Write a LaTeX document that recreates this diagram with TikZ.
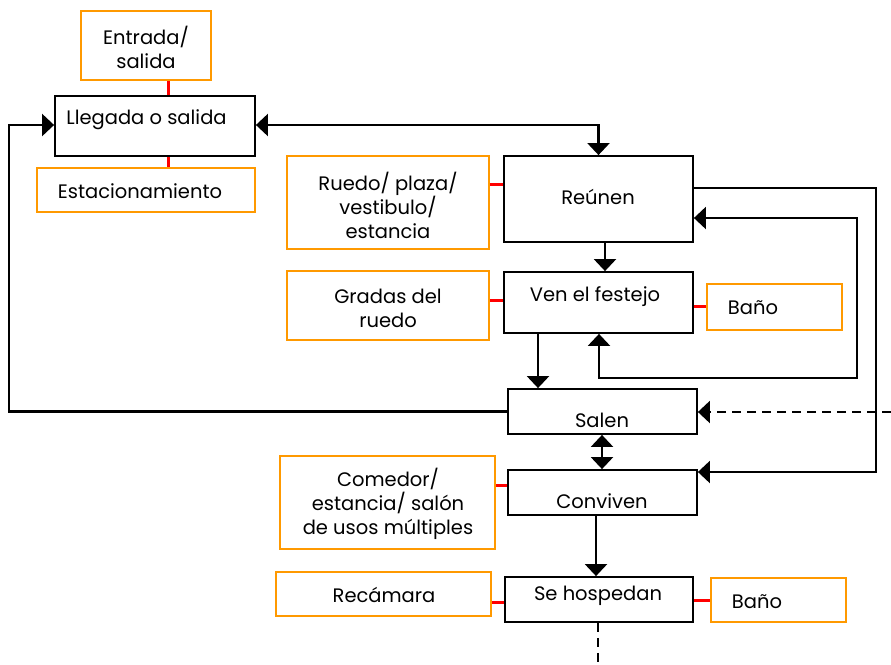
\documentclass[tikz,border=0pt]{standalone}
\usepackage{fontspec}
\setmainfont{Poppins}
\usetikzlibrary{arrows.meta}
\definecolor{orng}{HTML}{FF9900}
\definecolor{redl}{HTML}{FF0000}
\begin{document}
\begin{tikzpicture}[x=1pt,y=-1pt,
  bbox/.style={draw=black, line width=1.8pt, inner sep=0pt},
  obox/.style={draw=orng, line width=1.8pt, inner sep=0pt},
  txt/.style={font=\fontsize{19.5}{24}\selectfont, align=center, inner sep=0pt},
  redlink/.style={draw=redl, line width=3pt},
  conn/.style={line width=2.2pt, -{Triangle[length=12pt,width=22pt]}},
  conn2/.style={line width=2.2pt, {Triangle[length=12pt,width=22pt]}-{Triangle[length=12pt,width=22pt]}},
  dconn/.style={line width=2.2pt, dash pattern=on 9pt off 6pt}
]
\useasboundingbox (0,0) rectangle (891,664);
% boxes
\node[obox, minimum width=130pt, minimum height=69pt] (entrada) at (146,45.5) {};
\node[bbox, minimum width=200pt, minimum height=60pt] (llegada) at (155,126) {};
\node[obox, minimum width=218pt, minimum height=44pt] (estac) at (146,190) {};
\node[obox, minimum width=202pt, minimum height=93pt] (ruedo) at (388,202.5) {};
\node[bbox, minimum width=189pt, minimum height=86pt] (reunen) at (598.5,199) {};
\node[obox, minimum width=202pt, minimum height=69pt] (gradas) at (388,305.5) {};
\node[bbox, minimum width=189pt, minimum height=61pt] (ven) at (598.5,302.5) {};
\node[obox, minimum width=135pt, minimum height=46pt] (bano1) at (774.5,307) {};
\node[bbox, minimum width=189pt, minimum height=45pt] (salen) at (602.5,411.5) {};
\node[obox, minimum width=215pt, minimum height=93pt] (comedor) at (387.5,502.5) {};
\node[bbox, minimum width=189pt, minimum height=45pt] (conviven) at (602.5,492.5) {};
\node[obox, minimum width=215pt, minimum height=44pt] (recamara) at (383.5,594) {};
\node[bbox, minimum width=188pt, minimum height=45pt] (hosped) at (599,599.5) {};
\node[obox, minimum width=135pt, minimum height=44pt] (bano2) at (778.5,600) {};
% texts
\node[txt] (tentrada) at (146,47) {Entrada/\\salida};
\node[txt] (tllegada) at (146.5,120) {Llegada o salida};
\node[txt] (testac) at (140,191) {Estacionamiento};
\node[txt] (truedo) at (388,205) {Ruedo/ plaza/\\vestibulo/\\estancia};
\node[txt] (treunen) at (598,197) {Reúnen};
\node[txt] (tgradas) at (388,308) {Gradas del\\ruedo};
\node[txt] (tven) at (595,297) {Ven el festejo};
\node[txt] (tbano1) at (753,308) {Baño};
\node[txt] (tsalen) at (602,420) {Salen};
\node[txt] (tcomedor) at (388,504) {Comedor/\\estancia/ salón\\de usos múltiples};
\node[txt] (tconviven) at (602,501) {Conviven};
\node[txt] (trecamara) at (384,595) {Recámara};
\node[txt] (thosped) at (598,596) {Se hospedan};
\node[txt] (tbano2) at (757,602) {Baño};
% red links
\draw[redlink] (entrada.south -| 168,0) -- (llegada.north -| 168,0);
\draw[redlink] (llegada.south -| 168,0) -- (estac.north -| 168,0);
\draw[redlink] (ruedo.east |- 0,184) -- (reunen.west |- 0,184);
\draw[redlink] (gradas.east |- 0,300) -- (ven.west |- 0,300);
\draw[redlink] (ven.east |- 0,306) -- (bano1.west |- 0,306);
\draw[redlink] (comedor.east |- 0,485) -- (conviven.west |- 0,485);
\draw[redlink] (recamara.east |- 0,602) -- (hosped.west |- 0,602);
\draw[redlink] (hosped.east |- 0,600) -- (bano2.west |- 0,600);
% black connectors
\coordinate (dashin) at (891,412);
\coordinate (dashout) at (598,664);
\draw[conn2] (llegada.east |- 0,125) -| (reunen.north);
\draw[conn] (reunen.south -| 605,0) -- (ven.north -| 605,0);
\draw[conn] (ven.south -| 538,0) -- (salen.north -| 538,0);
\draw[conn2] (ven.south -| 599,0) |- (857,378) |- (reunen.east |- 0,218);
\draw[conn] (reunen.east |- 0,188) -| (876,472) -- (conviven.east |- 0,472);
\draw[conn] (salen.west) -| (9,125) -- (llegada.west |- 0,125);
\draw[dconn, -{Triangle[length=12pt,width=22pt]}] (dashin) -- (salen.east |- dashin);
\draw[conn2] (salen.south -| 602,0) -- (conviven.north -| 602,0);
\draw[conn] (conviven.south -| 596,0) -- (hosped.north -| 596,0);
\draw[dconn] (hosped.south -| 598,0) -- (dashout);
\end{tikzpicture}
\end{document}
